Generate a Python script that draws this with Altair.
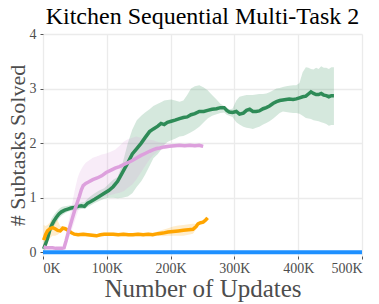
import altair as alt
import pandas as pd

# ---- data (x in thousands of updates) ----
green_x = [1, 4, 7, 10, 13, 17, 21, 25, 29, 34, 39, 44, 49, 55, 60, 65, 70, 75, 81, 88, 96, 103, 110, 117, 124, 133,
           140, 147, 154, 160, 167, 173, 180, 185, 190, 195, 201, 207, 214, 220, 226, 232, 238, 245, 252, 258, 265, 272,
           278, 284, 288, 292, 297, 303, 308, 314, 319, 324, 329, 334, 339, 345, 350, 355, 361, 366, 371, 376, 381, 386,
           392, 397, 402, 407, 412, 416, 420, 424, 428, 432, 436, 440, 444, 448, 452, 456]
green_y = [0.06, 0.15, 0.25, 0.38, 0.48, 0.57, 0.64, 0.70, 0.74, 0.77, 0.79, 0.81, 0.82, 0.84, 0.85, 0.84, 0.90, 0.93,
           0.97, 1.02, 1.08, 1.13, 1.20, 1.30, 1.45, 1.64, 1.80, 1.90, 2.00, 2.10, 2.21, 2.26, 2.31, 2.36, 2.34, 2.38,
           2.40, 2.42, 2.45, 2.47, 2.48, 2.52, 2.54, 2.58, 2.58, 2.60, 2.62, 2.63, 2.65, 2.65, 2.60, 2.57, 2.56, 2.58,
           2.53, 2.55, 2.60, 2.62, 2.58, 2.58, 2.59, 2.63, 2.65, 2.68, 2.73, 2.76, 2.78, 2.79, 2.80, 2.81, 2.80, 2.81,
           2.83, 2.85, 2.86, 2.90, 2.94, 2.91, 2.89, 2.89, 2.91, 2.88, 2.87, 2.85, 2.87, 2.87]
green_lo = [0.00, 0.07, 0.15, 0.28, 0.40, 0.48, 0.55, 0.62, 0.67, 0.71, 0.74, 0.76, 0.77, 0.78, 0.79, 0.79, 0.83, 0.86,
            0.90, 0.94, 0.98, 1.00, 1.00, 0.99, 1.00, 1.02, 1.08, 1.20, 1.30, 1.42, 1.58, 1.72, 1.80, 1.88, 1.97, 2.02,
            2.05, 2.08, 2.12, 2.13, 2.16, 2.20, 2.24, 2.30, 2.38, 2.45, 2.50, 2.53, 2.55, 2.56, 2.52, 2.50, 2.48, 2.38,
            2.34, 2.30, 2.28, 2.27, 2.26, 2.28, 2.30, 2.34, 2.37, 2.40, 2.45, 2.50, 2.55, 2.58, 2.57, 2.56, 2.55, 2.55,
            2.54, 2.50, 2.46, 2.45, 2.44, 2.42, 2.41, 2.40, 2.38, 2.37, 2.35, 2.32, 2.33, 2.33]
green_hi = [0.12, 0.25, 0.35, 0.48, 0.61, 0.68, 0.74, 0.79, 0.83, 0.84, 0.85, 0.86, 0.87, 0.89, 0.91, 0.92, 0.98, 1.03,
            1.08, 1.13, 1.17, 1.25, 1.33, 1.38, 1.60, 2.00, 2.25, 2.42, 2.50, 2.56, 2.62, 2.68, 2.72, 2.75, 2.78, 2.79,
            2.80, 2.78, 2.76, 2.78, 2.88, 3.00, 3.04, 3.06, 3.02, 2.97, 2.88, 2.80, 2.72, 2.68, 2.65, 2.62, 2.63, 2.78,
            2.85, 2.87, 2.88, 2.88, 2.88, 2.89, 2.90, 2.90, 2.91, 2.93, 2.97, 3.00, 3.01, 3.03, 3.04, 3.05, 3.06, 3.06,
            3.10, 3.30, 3.39, 3.38, 3.36, 3.35, 3.38, 3.36, 3.41, 3.38, 3.38, 3.36, 3.39, 3.39]

pink_x = [1, 5, 10, 15, 20, 25, 30, 33, 36, 40, 45, 50, 54, 57, 60, 63, 67, 72, 78, 85, 92, 99, 106, 113, 120, 127,
          133, 140, 146, 153, 160, 167, 173, 178, 183, 190, 198, 206, 214, 222, 230, 238, 245, 251]
pink_y = [0.10, 0.08, 0.08, 0.08, 0.07, 0.07, 0.07, 0.08, 0.20, 0.38, 0.58, 0.78, 0.92, 1.02, 1.14, 1.22, 1.26, 1.29,
          1.33, 1.36, 1.40, 1.46, 1.50, 1.54, 1.57, 1.61, 1.64, 1.68, 1.72, 1.77, 1.81, 1.85, 1.88, 1.90, 1.91, 1.93,
          1.94, 1.95, 1.96, 1.95, 1.96, 1.95, 1.96, 1.94]
pink_lo = [0.08, 0.06, 0.06, 0.06, 0.05, 0.05, 0.05, 0.06, 0.12, 0.25, 0.40, 0.58, 0.72, 0.82, 0.88, 0.91, 0.93, 0.95,
           0.97, 0.99, 1.01, 1.03, 1.05, 1.07, 1.09, 1.12, 1.18, 1.24, 1.33, 1.45, 1.58, 1.70, 1.78, 1.83, 1.87, 1.89,
           1.91, 1.92, 1.93, 1.92, 1.93, 1.92, 1.93, 1.91]
pink_hi = [0.12, 0.10, 0.10, 0.10, 0.09, 0.09, 0.09, 0.10, 0.30, 0.55, 0.85, 1.15, 1.35, 1.45, 1.52, 1.58, 1.64, 1.68,
           1.73, 1.76, 1.79, 1.81, 1.84, 1.88, 1.95, 2.03, 2.07, 2.10, 2.12, 2.10, 2.07, 2.06, 2.05, 2.03, 2.01, 2.00,
           1.99, 1.99, 1.99, 1.98, 1.99, 1.98, 1.99, 1.97]

orange_x = [1, 4, 7, 11, 15, 19, 23, 27, 31, 35, 39, 44, 49, 55, 63, 70, 77, 84, 90, 96, 103, 110, 118, 126, 134, 141,
            149, 157, 165, 172, 180, 188, 196, 204, 212, 220, 228, 235, 240, 243, 247, 251, 255, 258]
orange_y = [0.22, 0.32, 0.39, 0.43, 0.45, 0.43, 0.40, 0.39, 0.44, 0.43, 0.40, 0.36, 0.33, 0.32, 0.33, 0.32, 0.31, 0.30,
            0.32, 0.33, 0.33, 0.33, 0.32, 0.33, 0.32, 0.32, 0.33, 0.32, 0.33, 0.32, 0.34, 0.35, 0.37, 0.38, 0.39, 0.40,
            0.41, 0.42, 0.47, 0.52, 0.54, 0.55, 0.59, 0.63]
orange_lo = [0.10, 0.14, 0.20, 0.26, 0.30, 0.30, 0.32, 0.36, 0.41, 0.40, 0.37, 0.33, 0.30, 0.29, 0.30, 0.29, 0.28, 0.27,
             0.29, 0.30, 0.30, 0.30, 0.29, 0.30, 0.29, 0.29, 0.30, 0.29, 0.30, 0.29, 0.30, 0.29, 0.30, 0.30, 0.30, 0.30,
             0.32, 0.34, 0.42, 0.50, 0.52, 0.53, 0.57, 0.61]
orange_hi = [0.50, 0.48, 0.50, 0.55, 0.60, 0.62, 0.58, 0.48, 0.48, 0.46, 0.43, 0.39, 0.36, 0.35, 0.36, 0.35, 0.34, 0.33,
             0.35, 0.36, 0.36, 0.36, 0.35, 0.36, 0.35, 0.35, 0.36, 0.35, 0.36, 0.35, 0.38, 0.41, 0.44, 0.47, 0.49, 0.50,
             0.51, 0.52, 0.52, 0.54, 0.56, 0.57, 0.61, 0.65]

blue_x = [0, 100, 200, 300, 400, 500]
blue_y = [0, 0, 0, 0, 0, 0]

x_ticks = [0, 100000, 200000, 300000, 400000, 500000]
y_ticks = [0, 1, 2, 3, 4]

GREEN, PINK, ORANGE, BLUE = "#2e8b57", "#dda0dd", "#ffa500", "#1e90ff"
FONT = "Liberation Serif"
LABEL_COLOR = "#4d4d4d"

def frame(xs, ys, lo=None, hi=None):
    d = pd.DataFrame({"x": [v * 1000 for v in xs], "y": ys})
    if lo is not None:
        d["lo"] = lo
        d["hi"] = hi
    return d

xs = alt.Scale(domain=[0, 500000], nice=False, zero=False)
ys = alt.Scale(domain=[-0.07, 4], nice=False, zero=False)
x_axis = alt.Axis(values=x_ticks, labelExpr="datum.value / 1000 + 'K'", title="Number of Updates",
                  labelFont=FONT, labelFontSize=14, labelColor=LABEL_COLOR, labelPadding=2,
                  titleFont=FONT, titleFontSize=25, titleFontWeight="normal", titleColor=LABEL_COLOR,
                  titlePadding=1, domain=False, grid=True, tickSize=3)
y_axis = alt.Axis(values=y_ticks, title="# Subtasks Solved",
                  labelFont=FONT, labelFontSize=14, labelColor=LABEL_COLOR, labelPadding=4,
                  titleFont=FONT, titleFontSize=22, titleFontWeight="normal", titleColor=LABEL_COLOR,
                  titlePadding=0, domain=False, grid=True, tickSize=3)

def band(d, color):
    return alt.Chart(d).mark_area(color=color, opacity=0.2).encode(
        x=alt.X("x:Q", scale=xs, axis=x_axis),
        y=alt.Y("lo:Q", scale=ys, axis=y_axis),
        y2="hi:Q",
    )

def line(d, color, w=3.5):
    return alt.Chart(d).mark_line(color=color, strokeWidth=w).encode(
        x=alt.X("x:Q", scale=xs, axis=x_axis),
        y=alt.Y("y:Q", scale=ys, axis=y_axis),
    )

g = frame(green_x, green_y, green_lo, green_hi)
p = frame(pink_x, pink_y, pink_lo, pink_hi)
o = frame(orange_x, orange_y, orange_lo, orange_hi)
b = frame(blue_x, blue_y)

chart = alt.layer(
    band(g, GREEN), band(p, PINK), band(o, ORANGE),
    line(g, GREEN), line(o, ORANGE), line(p, PINK), line(b, BLUE, 4),
).properties(
    width=319, height=222,
    title=alt.TitleParams("Kitchen Sequential Multi-Task 2", fontSize=24, font=FONT,
                          fontWeight="normal", color="#000000", anchor="middle", offset=-2),
    autosize=alt.AutoSizeParams(type="none"),
    padding={"left": 35, "top": 26, "right": 9, "bottom": 48},
).configure(
    font=FONT,
).configure_view(
    stroke=None,
).configure_axis(
    gridColor="#ebebeb",
    gridWidth=1.3,
    tickColor="#555555",
    tickWidth=1,
)

chart.save("out.html", embed_options={"renderer": "svg", "actions": False})
